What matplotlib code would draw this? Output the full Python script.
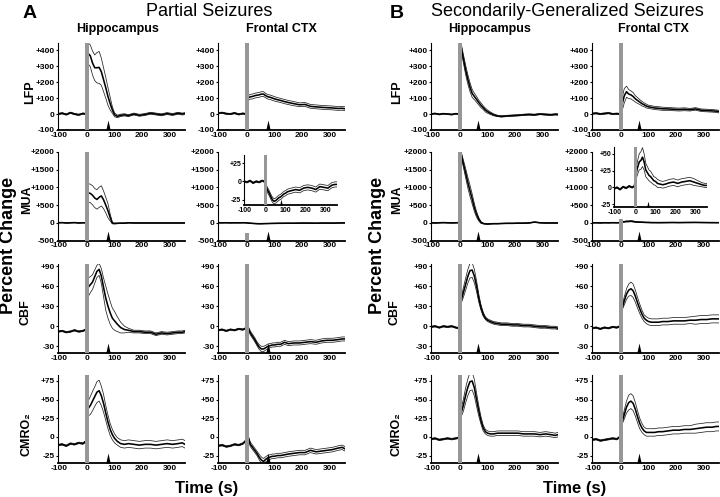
import numpy as np
import matplotlib.pyplot as plt
from matplotlib.path import Path

plt.rcParams['font.family'] = ['Liberation Sans', 'DejaVu Sans']
plt.rcParams['font.weight'] = 'bold'
plt.rcParams['axes.unicode_minus'] = False

time = [-105, -90, -75, -60, -45, -30, -15, -4,
        4, 12, 20, 28, 36, 44, 52, 60, 68, 76, 84, 92, 100,
        110, 122, 136, 150, 170, 190, 210, 230, 250, 270, 290, 310, 330, 345, 355]

# ---- A: partial seizures ----
a_hip_lfp = [0, 5, -3, 8, 0, -5, 3, 0,
             380, 365, 320, 290, 290, 292, 265, 215, 165, 110, 65, 25, -5,
             -15, -8, -5, -10, 0, -8, -3, 5, 0, -5, 3, -3, 5, 0, 3]
a_hip_lfp_sem = [4, 4, 4, 4, 4, 4, 4, 4,
                 65, 68, 75, 80, 95, 100, 85, 75, 65, 55, 40, 20, 12,
                 8, 7, 7, 6, 6, 6, 6, 6, 6, 6, 6, 6, 6, 6, 6]
a_fr_lfp = [5, 8, 2, 0, 6, -2, 3, 0,
            100, 108, 110, 115, 118, 120, 125, 125, 115, 108, 105, 100, 95,
            90, 85, 78, 72, 65, 58, 60, 48, 45, 42, 40, 38, 35, 36, 33]
a_fr_lfp_sem = [4, 4, 4, 4, 4, 4, 4, 4,
                15, 15, 15, 15, 15, 15, 15, 15, 14, 14, 14, 14, 14,
                13, 13, 13, 13, 13, 12, 12, 12, 12, 12, 12, 12, 12, 12, 12]
a_hip_mua = [0, 5, -5, 0, 5, -5, 0, 0,
             850, 830, 780, 700, 660, 720, 760, 650, 500, 340, 150, -10, -20,
             -15, -10, -10, 0, -5, -5, -5, -5, -5, -5, -5, -5, -5, -5, -5]
a_hip_mua_sem = [5, 5, 5, 5, 5, 5, 5, 5,
                 260, 260, 270, 270, 275, 285, 285, 250, 220, 200, 100, 20, 10,
                 8, 5, 5, 5, 5, 5, 5, 5, 5, 5, 5, 5, 5, 5, 5]
a_fr_mua = [0, -1, 1, -2, 0, -1, 1, 0,
            -7, -12, -16, -21, -25, -27, -26, -24, -22, -21, -19, -17, -16,
            -14, -13, -12, -11, -12, -9, -8, -9, -11, -7, -8, -9, -5, -4, -4]
a_fr_mua_sem = [1, 1, 1, 1, 1, 1, 1, 1,
                3, 3.5, 3.5, 3.5, 3.5, 3.5, 3.5, 3.5, 3.5, 3.5, 3.5, 3.5, 3.5,
                3.5, 3.5, 3.5, 3.5, 3.5, 3.5, 3.5, 3.5, 3.5, 3.5, 3.5, 3.5, 3.5, 3.5, 3.5]
a_hip_cbf = [-8, -7, -9, -8, -6, -8, -7, -5,
             58, 62, 66, 74, 82, 85, 75, 58, 42, 30, 20, 12, 8,
             3, -2, -5, -6, -8, -8, -9, -9, -12, -10, -11, -10, -9, -9, -8]
a_hip_cbf_sem = [1, 1, 1, 1, 1, 1, 1, 1,
                 14, 12, 11, 10, 9, 9, 11, 14, 18, 18, 17, 15, 14,
                 11, 8, 5, 3, 2, 2, 2, 2, 2, 2, 2, 2, 2, 2, 2]
a_fr_cbf = [-6, -5, -7, -5, -6, -4, -5, -3,
            -2, -10, -15, -20, -26, -31, -34, -34, -32, -30, -29, -28, -28,
            -27, -27, -24, -26, -25, -25, -24, -23, -24, -22, -21, -21, -20, -19, -19]
a_fr_cbf_sem = [1, 1, 1, 1, 1, 1, 1, 1,
                2, 3, 3, 3, 3, 3.5, 4, 4, 3.5, 3.5, 3, 3, 3,
                3, 3, 3, 3, 3, 3, 3, 3, 3, 3, 3, 3, 3, 3, 3]
a_hip_cmro2 = [-11, -10, -12, -9, -10, -8, -9, -6,
               38, 42, 48, 54, 60, 62, 55, 45, 32, 20, 10, 3, -2,
               -6, -9, -10, -9, -10, -11, -10, -10, -11, -10, -9, -10, -9, -8, -10]
a_hip_cmro2_sem = [1, 1, 1, 1, 1, 1, 1, 1,
                   10, 12, 13, 13, 14, 14, 13, 12, 10, 9, 8, 7, 6,
                   5, 5, 5, 5, 5, 5, 5, 5, 5, 5, 5, 5, 5, 5, 5]
a_fr_cmro2 = [-12, -11, -13, -12, -10, -11, -9, -5,
              0, -10, -14, -18, -22, -27, -31, -33, -30, -28, -27, -26, -26,
              -25, -25, -24, -23, -22, -21, -21, -18, -20, -19, -18, -17, -15, -14, -16]
a_fr_cmro2_sem = [1, 1, 1, 1, 1, 1, 1, 1,
                  2, 3, 3, 3, 3, 3.5, 4, 4, 3.5, 3.5, 3, 3, 3,
                  3, 3, 3, 3, 3, 3, 3, 3, 3, 3, 3, 3, 3, 3, 3]

# ---- B: secondarily-generalized seizures ----
b_hip_lfp = [0, 3, -2, 2, 0, -3, 2, 0,
             420, 350, 280, 220, 170, 130, 110, 92, 72, 55, 40, 25, 15,
             5, -5, -12, -15, -12, -10, -8, -5, -3, -5, 0, -3, -5, -2, -3]
b_hip_lfp_sem = [3, 3, 3, 3, 3, 3, 3, 3,
                 25, 25, 30, 30, 28, 25, 20, 18, 15, 15, 12, 12, 10,
                 8, 6, 4, 4, 4, 4, 4, 4, 4, 4, 4, 4, 4, 4, 4]
b_fr_lfp = [2, 5, 0, 3, 6, 0, 2, 0,
            60, 115, 140, 125, 120, 110, 95, 85, 75, 65, 58, 50, 45,
            42, 38, 36, 33, 32, 30, 28, 30, 27, 32, 24, 22, 20, 18, 15]
b_fr_lfp_sem = [4, 4, 4, 4, 4, 4, 4, 4,
                40, 45, 35, 28, 25, 25, 20, 18, 15, 14, 12, 12, 10,
                10, 10, 10, 10, 9, 9, 9, 9, 8, 8, 8, 8, 8, 8, 8]
b_hip_mua = [0, -5, 0, 5, 0, -3, 0, 5,
             1950, 1680, 1420, 1150, 910, 680, 430, 240, 100, 10, -20, -30, -35,
             -30, -25, -25, -20, -15, -15, -10, -10, -5, 20, 0, -5, -5, -5, -5]
b_hip_mua_sem = [5, 5, 5, 5, 5, 5, 5, 5,
                 60, 100, 130, 150, 160, 140, 110, 80, 50, 25, 10, 8, 5,
                 5, 5, 5, 5, 5, 5, 5, 5, 5, 5, 5, 5, 5, 5, 5]
b_fr_mua = [-2, 0, -3, 1, -1, 2, 0, 2,
            20, 30, 38, 40, 45, 38, 26, 22, 18, 16, 13, 10, 9,
            6, 5, 4, 5, 7, 8, 6, 8, 9, 10, 8, 6, 4, 3, 3]
b_fr_mua_sem = [1, 1, 1, 1, 1, 1, 1, 1,
                8, 10, 12, 13, 14, 12, 10, 9, 8, 8, 7, 6, 6,
                6, 5, 5, 5, 5, 5, 5, 5, 5, 5, 5, 4, 3, 3, 3]
b_hip_cbf = [-1, 0, -2, 0, -1, 0, -2, -3,
             38, 50, 62, 74, 83, 84, 75, 60, 42, 28, 18, 12, 9,
             7, 5, 4, 3, 3, 2, 2, 1, 1, 0, -1, -1, -2, -2, -3]
b_hip_cbf_sem = [1, 1, 1, 1, 1, 1, 1, 1,
                 4, 7, 9, 10, 11, 11, 10, 8, 6, 4, 3, 2, 2,
                 2, 2, 2, 2, 2, 2, 2, 2, 2, 2, 2, 2, 2, 2, 2]
b_fr_cbf = [-3, -2, -4, -2, -3, -1, -2, 0,
            27, 38, 48, 54, 56, 53, 45, 35, 26, 18, 12, 9, 7,
            6, 6, 6, 7, 7, 8, 8, 8, 9, 9, 10, 10, 11, 11, 11]
b_fr_cbf_sem = [1, 1, 1, 1, 1, 1, 1, 1,
                3, 6, 8, 9, 10, 10, 9, 8, 7, 6, 5, 5, 5,
                5, 5, 5, 5, 5, 5, 5, 5, 5, 6, 6, 6, 6, 6, 6]
b_hip_cmro2 = [-3, -2, -4, -3, -2, -3, -2, -1,
               32, 42, 55, 66, 74, 75, 66, 50, 35, 22, 12, 7, 5,
               4, 4, 5, 5, 5, 5, 5, 4, 4, 4, 3, 4, 3, 2, 3]
b_hip_cmro2_sem = [1, 1, 1, 1, 1, 1, 1, 1,
                   5, 8, 10, 11, 12, 12, 11, 9, 7, 5, 4, 3, 3,
                   3, 3, 3, 3, 3, 3, 3, 3, 3, 3, 3, 3, 3, 3, 3]
b_fr_cmro2 = [-4, -3, -5, -4, -3, -2, -3, 0,
              20, 30, 40, 46, 48, 45, 37, 27, 18, 12, 8, 6, 6,
              6, 6, 7, 7, 8, 9, 9, 10, 10, 11, 12, 13, 13, 14, 14]
b_fr_cmro2_sem = [1, 1, 1, 1, 1, 1, 1, 1,
                  3, 6, 8, 10, 10, 10, 9, 8, 7, 6, 5, 5, 5,
                  5, 5, 5, 5, 5, 5, 5, 5, 5, 6, 6, 6, 6, 6, 6]

# end-of-seizure arrows (s)
arrow_a = 75
arrow_b = 65

row_names = ['LFP', 'MUA', 'CBF', 'CMRO₂']
row_ylim = [(-100, 445), (-500, 2000), (-40, 93), (-35, 83)]
row_ticks = [[-100, 0, 100, 200, 300, 400],
             [-500, 0, 500, 1000, 1500, 2000],
             [-30, 0, 30, 60, 90],
             [-25, 0, 25, 50, 75]]
x_ticks = [-100, 0, 100, 200, 300]

W, H = 720, 497
fig = plt.figure(figsize=(7.2, 4.97), dpi=100)

arrow_path = Path([(-0.22, 0), (0.22, 0), (0, 1), (-0.22, 0)],
                  [Path.MOVETO, Path.LINETO, Path.LINETO, Path.CLOSEPOLY])


def px_axes(left, top, right, bottom):
    return fig.add_axes([left / W, 1 - bottom / H, (right - left) / W, (bottom - top) / H])


def fmt(v):
    return '+%d' % v if v > 0 else '%d' % v


def panel(ax, mean, sem, ylim, yticks, arrow_t, bar_top=1.0, fs=6, ams=14.4):
    m = np.array(mean, dtype=float)
    s = np.array(sem, dtype=float)
    ax.plot(time, m + s, color='#222222', lw=0.55, zorder=2)
    ax.plot(time, m - s, color='#222222', lw=0.55, zorder=2)
    ax.plot(time, m, color='black', lw=1.15, zorder=2)
    ax.axvspan(-7, 7, ymin=0, ymax=bar_top, color='#979797', lw=0, zorder=3)
    ax.set_xlim(-105, 355)
    ax.set_ylim(*ylim)
    ax.set_yticks(yticks)
    ax.set_yticklabels([fmt(v) for v in yticks])
    ax.set_xticks(x_ticks)
    ax.set_xticklabels(['%d' % v for v in x_ticks])
    for sp in ['top', 'right']:
        ax.spines[sp].set_visible(False)
    ax.spines['left'].set_linewidth(0.8)
    ax.spines['bottom'].set_linewidth(1.3)
    ax.tick_params(axis='y', length=1.5, width=0.8, pad=0.8, labelsize=fs)
    ax.tick_params(axis='x', length=0, pad=1.2, labelsize=fs)
    ax.plot([arrow_t], [ylim[0]], marker=arrow_path, ms=ams, color='black',
            mew=0, clip_on=False, zorder=5)


col_left = [58, 218, 431, 592]
row_top = [43, 152, 264, 375]
row_bottom = [130, 240.5, 353, 463]

data = [
    [(a_hip_lfp, a_hip_lfp_sem), (a_fr_lfp, a_fr_lfp_sem), (b_hip_lfp, b_hip_lfp_sem), (b_fr_lfp, b_fr_lfp_sem)],
    [(a_hip_mua, a_hip_mua_sem), (a_fr_mua, a_fr_mua_sem), (b_hip_mua, b_hip_mua_sem), (b_fr_mua, b_fr_mua_sem)],
    [(a_hip_cbf, a_hip_cbf_sem), (a_fr_cbf, a_fr_cbf_sem), (b_hip_cbf, b_hip_cbf_sem), (b_fr_cbf, b_fr_cbf_sem)],
    [(a_hip_cmro2, a_hip_cmro2_sem), (a_fr_cmro2, a_fr_cmro2_sem), (b_hip_cmro2, b_hip_cmro2_sem), (b_fr_cmro2, b_fr_cmro2_sem)],
]

for r in range(4):
    for c in range(4):
        ax = px_axes(col_left[c], row_top[r], col_left[c] + 127, row_bottom[r])
        bar_top = 1.0
        if r == 1 and c == 1:
            bar_top = 0.085
        if r == 1 and c == 3:
            bar_top = 0.24
        mean, sem = data[r][c]
        panel(ax, mean, sem, row_ylim[r], row_ticks[r],
              arrow_a if c < 2 else arrow_b, bar_top=bar_top)

# MUA insets for frontal cortex
ins_a = px_axes(244, 155, 337, 205)
panel(ins_a, a_fr_mua, a_fr_mua_sem, (-32, 36), [-25, 0, 25], 79,
      fs=5, ams=8.5)
ins_b = px_axes(614, 147, 707, 207)
panel(ins_b, b_fr_mua, b_fr_mua_sem, (-29, 60), [-25, 0, 25, 50], 62,
      fs=5, ams=8.5)
for ax in (ins_a, ins_b):
    ax.tick_params(axis='x', pad=1.8)
    ax.tick_params(axis='y', pad=0.5)


def ftext(x, y, s, **kw):
    fig.text(x / W, 1 - y / H, s, ha='center', va='center', **kw)


ftext(30, 13, 'A', fontsize=14, fontweight='bold')
ftext(209, 12, 'Partial Seizures', fontsize=13, fontweight='normal')
ftext(397, 13, 'B', fontsize=14, fontweight='bold')
ftext(567, 12, 'Secondarily-Generalized Seizures', fontsize=13, fontweight='normal')

for x, name in zip([118, 281, 490, 653], ['Hippocampus', 'Frontal CTX', 'Hippocampus', 'Frontal CTX']):
    ftext(x, 29, name, fontsize=9, fontweight='bold')

row_label_y = [92, 200, 312, 434]
row_label_xa = [30, 27, 26, 27]
row_label_xb = [397, 397, 394, 397]
for name, y, xa, xb in zip(row_names, row_label_y, row_label_xa, row_label_xb):
    ftext(xa, y, name, fontsize=9, fontweight='bold', rotation=90)
    ftext(xb, y, name, fontsize=9, fontweight='bold', rotation=90)

ftext(9, 245, 'Percent Change', fontsize=13, fontweight='bold', rotation=90)
ftext(377, 245, 'Percent Change', fontsize=13, fontweight='bold', rotation=90)
ftext(207, 488, 'Time (s)', fontsize=12, fontweight='bold')
ftext(575, 488, 'Time (s)', fontsize=12, fontweight='bold')

fig.savefig('out.png', dpi=100)
